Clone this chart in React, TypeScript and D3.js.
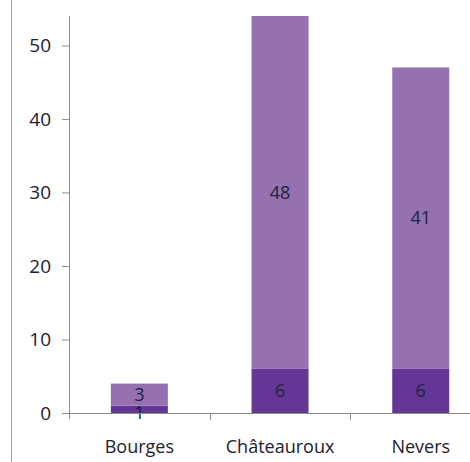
import React, { useEffect, useRef } from 'react'
import * as d3 from 'd3'

const cities = ['Bourges', 'Châteauroux', 'Nevers']
const lowerValues = [1, 6, 6]
const upperValues = [3, 48, 41]
const yTicks = [0, 10, 20, 30, 40, 50]

export default function App(): React.ReactElement {
  const ref = useRef<HTMLDivElement>(null)

  useEffect(() => {
    const width = 470
    const height = 462
    const marginLeft = 69
    const marginTop = 16
    const marginBottom = 49
    const y0 = height - marginBottom

    const x = d3
      .scaleBand()
      .domain(cities)
      .range([marginLeft, marginLeft + 3 * 140.7])
      .paddingInner(0)
      .paddingOuter(0)

    const y = d3.scaleLinear().domain([0, 54]).range([y0, marginTop])

    const barW = 57
    const font = "'Open Sans', 'Noto Sans', sans-serif"

    d3.select(ref.current).select('svg').remove()

    const svg = d3
      .select(ref.current)
      .append('svg')
      .attr('width', width)
      .attr('height', height)
      .attr('viewBox', `0 0 ${width} ${height}`)
      .attr('style', 'position:absolute;left:0;top:0;background:#fff')

    // left frame line
    svg
      .append('line')
      .attr('x1', 11.5)
      .attr('x2', 11.5)
      .attr('y1', 0)
      .attr('y2', height)
      .attr('stroke', '#a0a0a0')

    const rows = cities.map((c, i) => ({
      city: c,
      lower: lowerValues[i],
      upper: upperValues[i],
    }))

    const bx = (d: { city: string }) => x(d.city)! + x.bandwidth() / 2 - barW / 2

    svg
      .append('g')
      .attr('fill', '#643796')
      .selectAll('rect')
      .data(rows)
      .join('rect')
      .attr('x', bx)
      .attr('width', barW)
      .attr('y', (d) => y(d.lower))
      .attr('height', (d) => y(0) - y(d.lower))

    svg
      .append('g')
      .attr('fill', '#9571b0')
      .selectAll('rect')
      .data(rows)
      .join('rect')
      .attr('x', bx)
      .attr('width', barW)
      .attr('y', (d) => y(d.lower + d.upper))
      .attr('height', (d) => y(d.lower) - y(d.lower + d.upper))

    const labels = svg
      .append('g')
      .attr('font-family', font)
      .attr('font-size', 18)
      .attr('fill', '#202040')
      .attr('text-anchor', 'middle')

    labels
      .selectAll('text.lo')
      .data(rows)
      .join('text')
      .attr('class', 'lo')
      .attr('x', (d) => x(d.city)! + x.bandwidth() / 2)
      .attr('y', (d) => y(d.lower / 2))
      .attr('dy', (d) => (d.lower < 2 ? '0.55em' : '0.35em'))
      .text((d) => d.lower)

    labels
      .selectAll('text.up')
      .data(rows)
      .join('text')
      .attr('class', 'up')
      .attr('x', (d) => x(d.city)! + x.bandwidth() / 2)
      .attr('y', (d) => y(d.lower + d.upper / 2))
      .attr('dy', '0.35em')
      .text((d) => d.upper)

    // y axis
    const yAxis = svg
      .append('g')
      .attr('transform', `translate(${marginLeft},0)`)
      .call(
        d3
          .axisLeft(y)
          .tickValues(yTicks)
          .tickSize(7)
          .tickPadding(11)
          .tickSizeOuter(0)
      )
    yAxis.select('.domain').attr('stroke', '#8c8c8c').attr('d', `M0.5,${marginTop}V${y0 + 6}`)
    yAxis.selectAll('.tick line').attr('stroke', '#8c8c8c')
    yAxis
      .selectAll('.tick text')
      .attr('font-family', font)
      .attr('font-size', 19)
      .attr('fill', '#202030')

    // x axis
    const xAxis = svg
      .append('g')
      .attr('transform', `translate(0,${y0})`)
      .call(d3.axisBottom(x).tickSize(0).tickPadding(27).tickSizeOuter(0))
    xAxis.select('.domain').attr('stroke', '#8c8c8c').attr('d', `M${marginLeft},0.5H${width}`)
    xAxis
      .selectAll('.tick text')
      .attr('font-family', font)
      .attr('font-size', 18)
      .attr('fill', '#202030')

    xAxis
      .selectAll('line.sep')
      .data(cities.slice(1))
      .join('line')
      .attr('class', 'sep')
      .attr('x1', (d) => Math.round(x(d)!) + 0.5)
      .attr('x2', (d) => Math.round(x(d)!) + 0.5)
      .attr('y1', 0)
      .attr('y2', 7)
      .attr('stroke', '#8c8c8c')
  }, [])

  return <div ref={ref}></div>
}
